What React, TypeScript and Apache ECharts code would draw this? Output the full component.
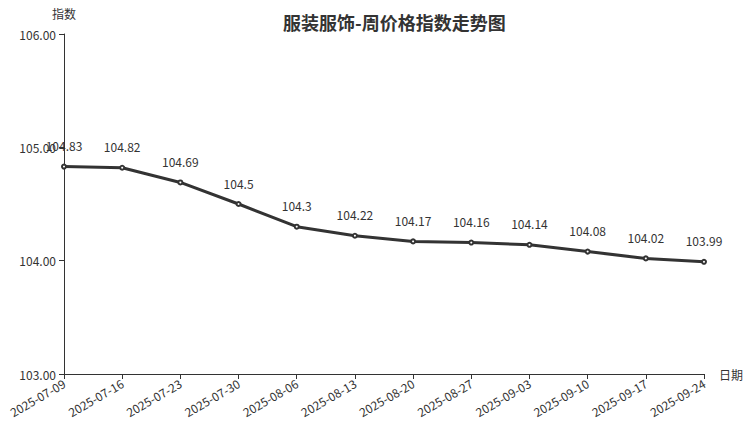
import React, { useEffect, useRef } from "react";
import * as echarts from "echarts";

const dates = [
  "2025-07-09", "2025-07-16", "2025-07-23", "2025-07-30", "2025-08-06", "2025-08-13",
  "2025-08-20", "2025-08-27", "2025-09-03", "2025-09-10", "2025-09-17", "2025-09-24",
];
const values = [104.83, 104.82, 104.69, 104.5, 104.3, 104.22, 104.17, 104.16, 104.14, 104.08, 104.02, 103.99];

const FONT = "Noto Sans CJK SC";

export default function App() {
  const ref = useRef<HTMLDivElement>(null);
  useEffect(() => {
    const chart = echarts.init(ref.current!, null, { renderer: "svg" });
    chart.setOption({
      animation: false,
      textStyle: { fontFamily: FONT },
      title: {
        text: "服装服饰-周价格指数走势图",
        left: 278,
        top: 8,
        textStyle: { fontFamily: FONT, fontSize: 18, fontWeight: "bold", color: "#333" },
      },
      grid: { left: 64, right: 48, top: 34, bottom: 53, containLabel: false },
      xAxis: {
        type: "category",
        data: dates,
        boundaryGap: false,
        name: "日期",
        nameLocation: "end",
        nameGap: 15,
        nameTextStyle: { fontFamily: FONT, fontSize: 12, color: "#333" },
        axisLine: { lineStyle: { color: "#333" } },
        axisTick: { show: true, alignWithLabel: true, lineStyle: { color: "#333" } },
        axisLabel: { rotate: 30, fontFamily: FONT, fontSize: 12, color: "#333", interval: 0, margin: 8 },
        splitLine: { show: false },
      },
      yAxis: {
        type: "value",
        min: 103,
        max: 106,
        interval: 1,
        name: "指数",
        nameLocation: "end",
        nameGap: 15,
        nameTextStyle: { fontFamily: FONT, fontSize: 12, color: "#333" },
        axisLine: { show: true, lineStyle: { color: "#333" } },
        axisTick: { show: true, lineStyle: { color: "#333" } },
        axisLabel: { fontFamily: FONT, fontSize: 12, color: "#333", formatter: (v: number) => v.toFixed(2) },
        splitLine: { show: false },
      },
      series: [
        {
          type: "line",
          data: values,
          symbol: "emptyCircle",
          symbolSize: 4,
          lineStyle: { color: "#333", width: 3 },
          itemStyle: { color: "#333", borderWidth: 1 },
          label: { show: true, position: "top", distance: 12, fontFamily: FONT, fontSize: 12, color: "#333" },
        },
      ],
    });
    return () => chart.dispose();
  }, []);
  return <div ref={ref} style={{ width: 752, height: 427, position: "absolute", left: 0, top: 0 }} />;
}
